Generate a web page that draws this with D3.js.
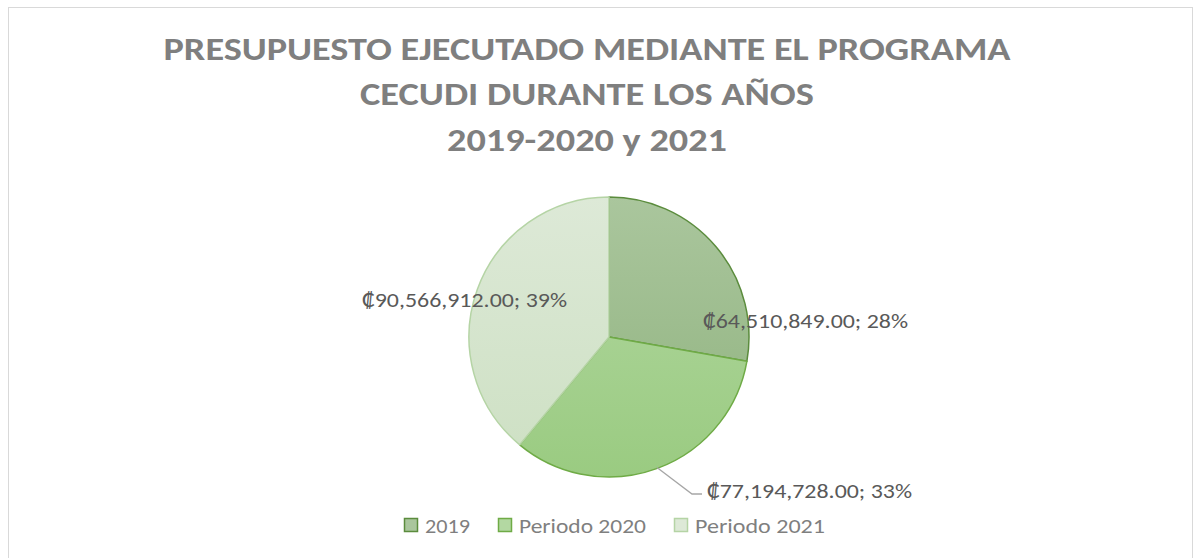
<!DOCTYPE html>
<html><head><meta charset="utf-8">
<script src="https://cdn.jsdelivr.net/npm/d3@7"></script>
<style>body{margin:0;background:#fff}svg{display:block}</style>
</head><body>
<script>
const categories = ["2019", "Periodo 2020", "Periodo 2021"];
const values = [64510849.00, 77194728.00, 90566912.00];
const percentLabels = ["28%", "33%", "39%"];
const titleLines = ["PRESUPUESTO EJECUTADO MEDIANTE EL PROGRAMA", "CECUDI DURANTE LOS AÑOS", "2019-2020 y 2021"];

const W = 1200, H = 558;
const svg = d3.select("body").append("svg").attr("width", W).attr("height", H);
const defs = svg.append("defs");
const fills = [["#aac69d", "#8fb27e"], ["#b3d8a2", "#9acb81"], ["#dde9d7", "#cde0c3"]];
const strokes = ["#5b8c3d", "#6fab46", "#b5d4a5"];
const cx = 609, cy = 337, r = 140;
fills.forEach((f, i) => {
  const g = defs.append("linearGradient").attr("id", "g" + i).attr("gradientUnits", "userSpaceOnUse")
    .attr("x1", 0).attr("y1", -r).attr("x2", 0).attr("y2", r);
  g.append("stop").attr("offset", 0).attr("stop-color", f[0]);
  g.append("stop").attr("offset", 1).attr("stop-color", f[1]);
});

svg.append("rect").attr("x", 8.5).attr("y", 7.5).attr("width", 1184).attr("height", 560)
  .attr("fill", "#fff").attr("stroke", "#d9d9d9");

const font = "Calibri, Carlito, 'Open Sans', sans-serif";
const titleY = [60, 105, 151];
const titleW = [847, 454, 280];
titleLines.forEach((t, i) => {
  svg.append("text").attr("x", 587).attr("y", titleY[i]).attr("text-anchor", "middle")
    .attr("font-family", font).attr("font-weight", "bold").attr("font-size", 31.5)
    .attr("fill", "#7f7f7f").attr("textLength", titleW[i]).attr("lengthAdjust", "spacingAndGlyphs").text(t);
});

const pie = d3.pie().sort(null).value(d => d);
const arcs = pie(values);
const arc = d3.arc().innerRadius(0).outerRadius(r);
const g = svg.append("g").attr("transform", `translate(${cx},${cy})`);
g.selectAll("path").data(arcs).enter().append("path")
  .attr("d", arc)
  .attr("fill", (d, i) => `url(#g${i})`).attr("stroke", (d, i) => strokes[i]).attr("stroke-width", 1.5)
  .attr("stroke-linejoin", "round");

const fmt = v => "₡" + d3.format(",.2f")(v);
const labelPos = [[703, 328, "start"], [707, 498, "start"], [567, 307, "end"]];
arcs.forEach((a, i) => {
  svg.append("text").attr("x", labelPos[i][0]).attr("y", labelPos[i][1]).attr("text-anchor", labelPos[i][2])
    .attr("font-family", font).attr("font-size", 20.5).attr("fill", "#595959")
    .attr("textLength", 205).attr("lengthAdjust", "spacingAndGlyphs")
    .text(fmt(values[i]) + "; " + percentLabels[i]);
});
// leader line for 2020
const mid = (arcs[1].startAngle + arcs[1].endAngle) / 2;
const edge = [cx + Math.sin(mid) * (r - 1), cy - Math.cos(mid) * (r - 1)];
svg.append("polyline").attr("points", `${edge[0]},${edge[1]} 692,494 702,494`)
  .attr("fill", "none").attr("stroke", "#a6a6a6").attr("stroke-width", 1.3);

const legX = [404, 498, 674];
const legW = [45, 127, 130];
categories.forEach((c, i) => {
  svg.append("rect").attr("x", legX[i] + 0.5).attr("y", 518.5).attr("width", 13).attr("height", 13)
    .attr("fill", fills[i][0]).attr("stroke", strokes[i]).attr("stroke-width", 1.5);
  svg.append("text").attr("x", legX[i] + 21).attr("y", 533).attr("font-family", font).attr("font-size", 19.5)
    .attr("fill", "#7f7f7f").attr("textLength", legW[i]).attr("lengthAdjust", "spacingAndGlyphs").text(c);
});
</script>
</body></html>
